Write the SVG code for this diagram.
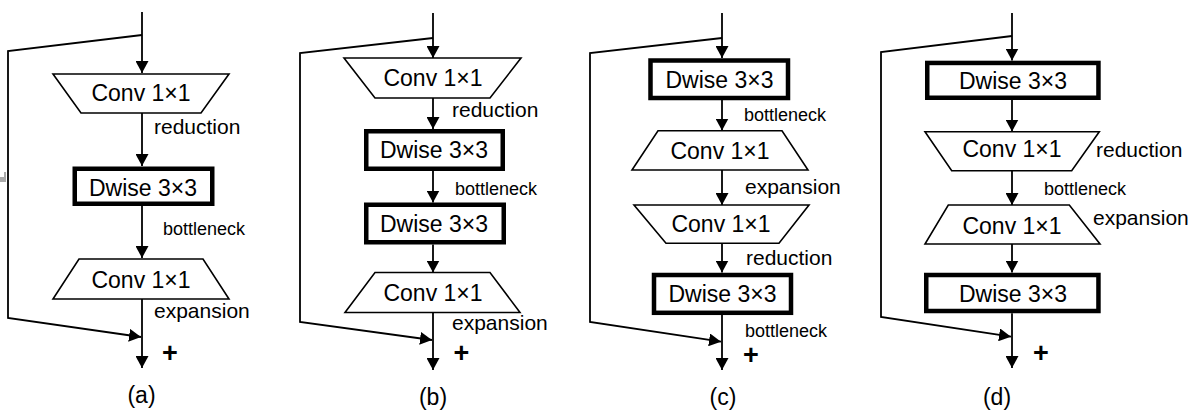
<svg xmlns="http://www.w3.org/2000/svg" width="1190" height="412" viewBox="0 0 1190 412">
<style>
text{font-family:"Liberation Sans",Arial,sans-serif;fill:#000}
.lbl{font-size:23px;text-anchor:middle}
.el{font-size:21px}
.bn{font-size:18px}
.cap{font-size:23px;text-anchor:middle}
.plus{font-size:27px;font-weight:bold;text-anchor:middle}
.trap{fill:#fff;stroke:#000;stroke-width:1.6}
.box{fill:#fff;stroke:#000;stroke-width:4.5}
.ln{fill:none;stroke:#000;stroke-width:1.8}
.arr{marker-end:url(#ah)}
</style>
<defs>
<marker id="ah" markerUnits="userSpaceOnUse" markerWidth="13" markerHeight="13" refX="12" refY="6.5" orient="auto">
<path d="M0,0 L12,6.5 L0,13 z" fill="#000"/>
</marker>
</defs>
<rect width="1190" height="412" fill="#fff"/>
<path d="M0,177 L4,177 L4,172 L6,172 L6,182 L0,182 z" fill="#aaa"/>

<g id="connectors">
<!-- (a) -->
<line class="ln arr" x1="142" y1="12" x2="142" y2="73"/>
<line class="ln arr" x1="142" y1="113" x2="142" y2="166"/>
<line class="ln arr" x1="142" y1="206" x2="142" y2="258"/>
<line class="ln arr" x1="142" y1="299" x2="142" y2="368"/>
<polyline class="ln arr" points="142,35 8,51 8,318 141,337"/>
<!-- (b) -->
<line class="ln arr" x1="433" y1="13" x2="433" y2="58"/>
<line class="ln arr" x1="433" y1="98" x2="433" y2="129"/>
<line class="ln arr" x1="433" y1="171" x2="433" y2="202.5"/>
<line class="ln arr" x1="433" y1="244.5" x2="433" y2="272.5"/>
<line class="ln arr" x1="433" y1="312.5" x2="433" y2="370"/>
<polyline class="ln arr" points="433,38 300,53 300,322 432,340"/>
<!-- (c) -->
<line class="ln arr" x1="722" y1="13" x2="722" y2="58"/>
<line class="ln arr" x1="722" y1="100" x2="722" y2="130.5"/>
<line class="ln arr" x1="722" y1="170" x2="722" y2="205"/>
<line class="ln arr" x1="722" y1="243.3" x2="722" y2="272.5"/>
<line class="ln arr" x1="722" y1="315" x2="722" y2="370"/>
<polyline class="ln arr" points="722,38 590,53 590,322 721,341.7"/>
<!-- (d) -->
<line class="ln arr" x1="1012" y1="13" x2="1012" y2="60.5"/>
<line class="ln arr" x1="1012" y1="100" x2="1012" y2="131.5"/>
<line class="ln arr" x1="1012" y1="170.7" x2="1012" y2="205"/>
<line class="ln arr" x1="1012" y1="244" x2="1012" y2="272.5"/>
<line class="ln arr" x1="1012" y1="313.3" x2="1012" y2="368"/>
<polyline class="ln arr" points="1012,36 881,52 881,317 1011,336.7"/>
</g>

<g id="edge-labels">
<text class="el" x="154" y="134">reduction</text>
<text class="bn" x="163" y="235">bottleneck</text>
<text class="el" x="154" y="318">expansion</text>
<text class="el" x="452" y="117">reduction</text>
<text class="bn" x="455" y="195">bottleneck</text>
<text class="el" x="452" y="330">expansion</text>
<text class="bn" x="744" y="121">bottleneck</text>
<text class="el" x="745" y="193.5">expansion</text>
<text class="el" x="746" y="264.5">reduction</text>
<text class="bn" x="745" y="337">bottleneck</text>
<text class="el" x="1096" y="157">reduction</text>
<text class="bn" x="1044" y="194.5">bottleneck</text>
<text class="el" x="1093" y="225">expansion</text>
<text class="plus" x="170" y="362">+</text>
<text class="plus" x="461.5" y="362">+</text>
<text class="plus" x="751" y="364">+</text>
<text class="plus" x="1041" y="362">+</text>
</g>

<!-- panel (a) -->
<g id="a-conv1">
<polygon class="trap" points="53,74 229,74 201,113 81,113"/>
<text class="lbl" x="141" y="101">Conv 1×1</text>
</g>
<g id="a-dwise">
<rect class="box" x="74.75" y="168.75" width="137.5" height="35"/>
<text class="lbl" x="143" y="195.5">Dwise 3×3</text>
</g>
<g id="a-conv2">
<polygon class="trap" points="79,259 203,259 229,299 53,299"/>
<text class="lbl" x="141" y="288">Conv 1×1</text>
</g>
<g id="a-caption"><text class="cap" x="141.5" y="403">(a)</text></g>

<!-- panel (b) -->
<g id="b-conv1">
<polygon class="trap" points="344,58 521,58 490,98 375,98"/>
<text class="lbl" x="433" y="86">Conv 1×1</text>
</g>
<g id="b-dwise1">
<rect class="box" x="366.25" y="131.25" width="136.5" height="37.5"/>
<text class="lbl" x="434" y="158">Dwise 3×3</text>
</g>
<g id="b-dwise2">
<rect class="box" x="366.25" y="204.75" width="137.5" height="37.5"/>
<text class="lbl" x="434" y="231.5">Dwise 3×3</text>
</g>
<g id="b-conv2">
<polygon class="trap" points="375,272.5 490,272.5 520,312.5 345,312.5"/>
<text class="lbl" x="433" y="300.5">Conv 1×1</text>
</g>
<g id="b-caption"><text class="cap" x="433" y="405">(b)</text></g>

<!-- panel (c) -->
<g id="c-dwise1">
<rect class="box" x="650.5" y="60.5" width="137.5" height="37.5"/>
<text class="lbl" x="719.5" y="87.5">Dwise 3×3</text>
</g>
<g id="c-conv1">
<polygon class="trap" points="658,130.7 782,130.7 808,170 632,170"/>
<text class="lbl" x="720" y="158.5">Conv 1×1</text>
</g>
<g id="c-conv2">
<polygon class="trap" points="634,205 809,205 779,243.3 666,243.3"/>
<text class="lbl" x="721" y="232">Conv 1×1</text>
</g>
<g id="c-dwise2">
<rect class="box" x="654" y="275" width="137" height="37.8"/>
<text class="lbl" x="722.5" y="302">Dwise 3×3</text>
</g>
<g id="c-caption"><text class="cap" x="723" y="405">(c)</text></g>

<!-- panel (d) -->
<g id="d-dwise1">
<rect class="box" x="927.25" y="62.95" width="171.2" height="34.8"/>
<text class="lbl" x="1013" y="88.5">Dwise 3×3</text>
</g>
<g id="d-conv1">
<polygon class="trap" points="925,131.7 1099.3,131.7 1071.7,170.7 951.7,170.7"/>
<text class="lbl" x="1012" y="157">Conv 1×1</text>
</g>
<g id="d-conv2">
<polygon class="trap" points="948.3,205 1069.3,205 1100,244 925,244"/>
<text class="lbl" x="1012" y="234">Conv 1×1</text>
</g>
<g id="d-dwise2">
<rect class="box" x="926.25" y="275" width="172.2" height="36"/>
<text class="lbl" x="1013" y="302">Dwise 3×3</text>
</g>
<g id="d-caption"><text class="cap" x="997" y="405">(d)</text></g>
</svg>
